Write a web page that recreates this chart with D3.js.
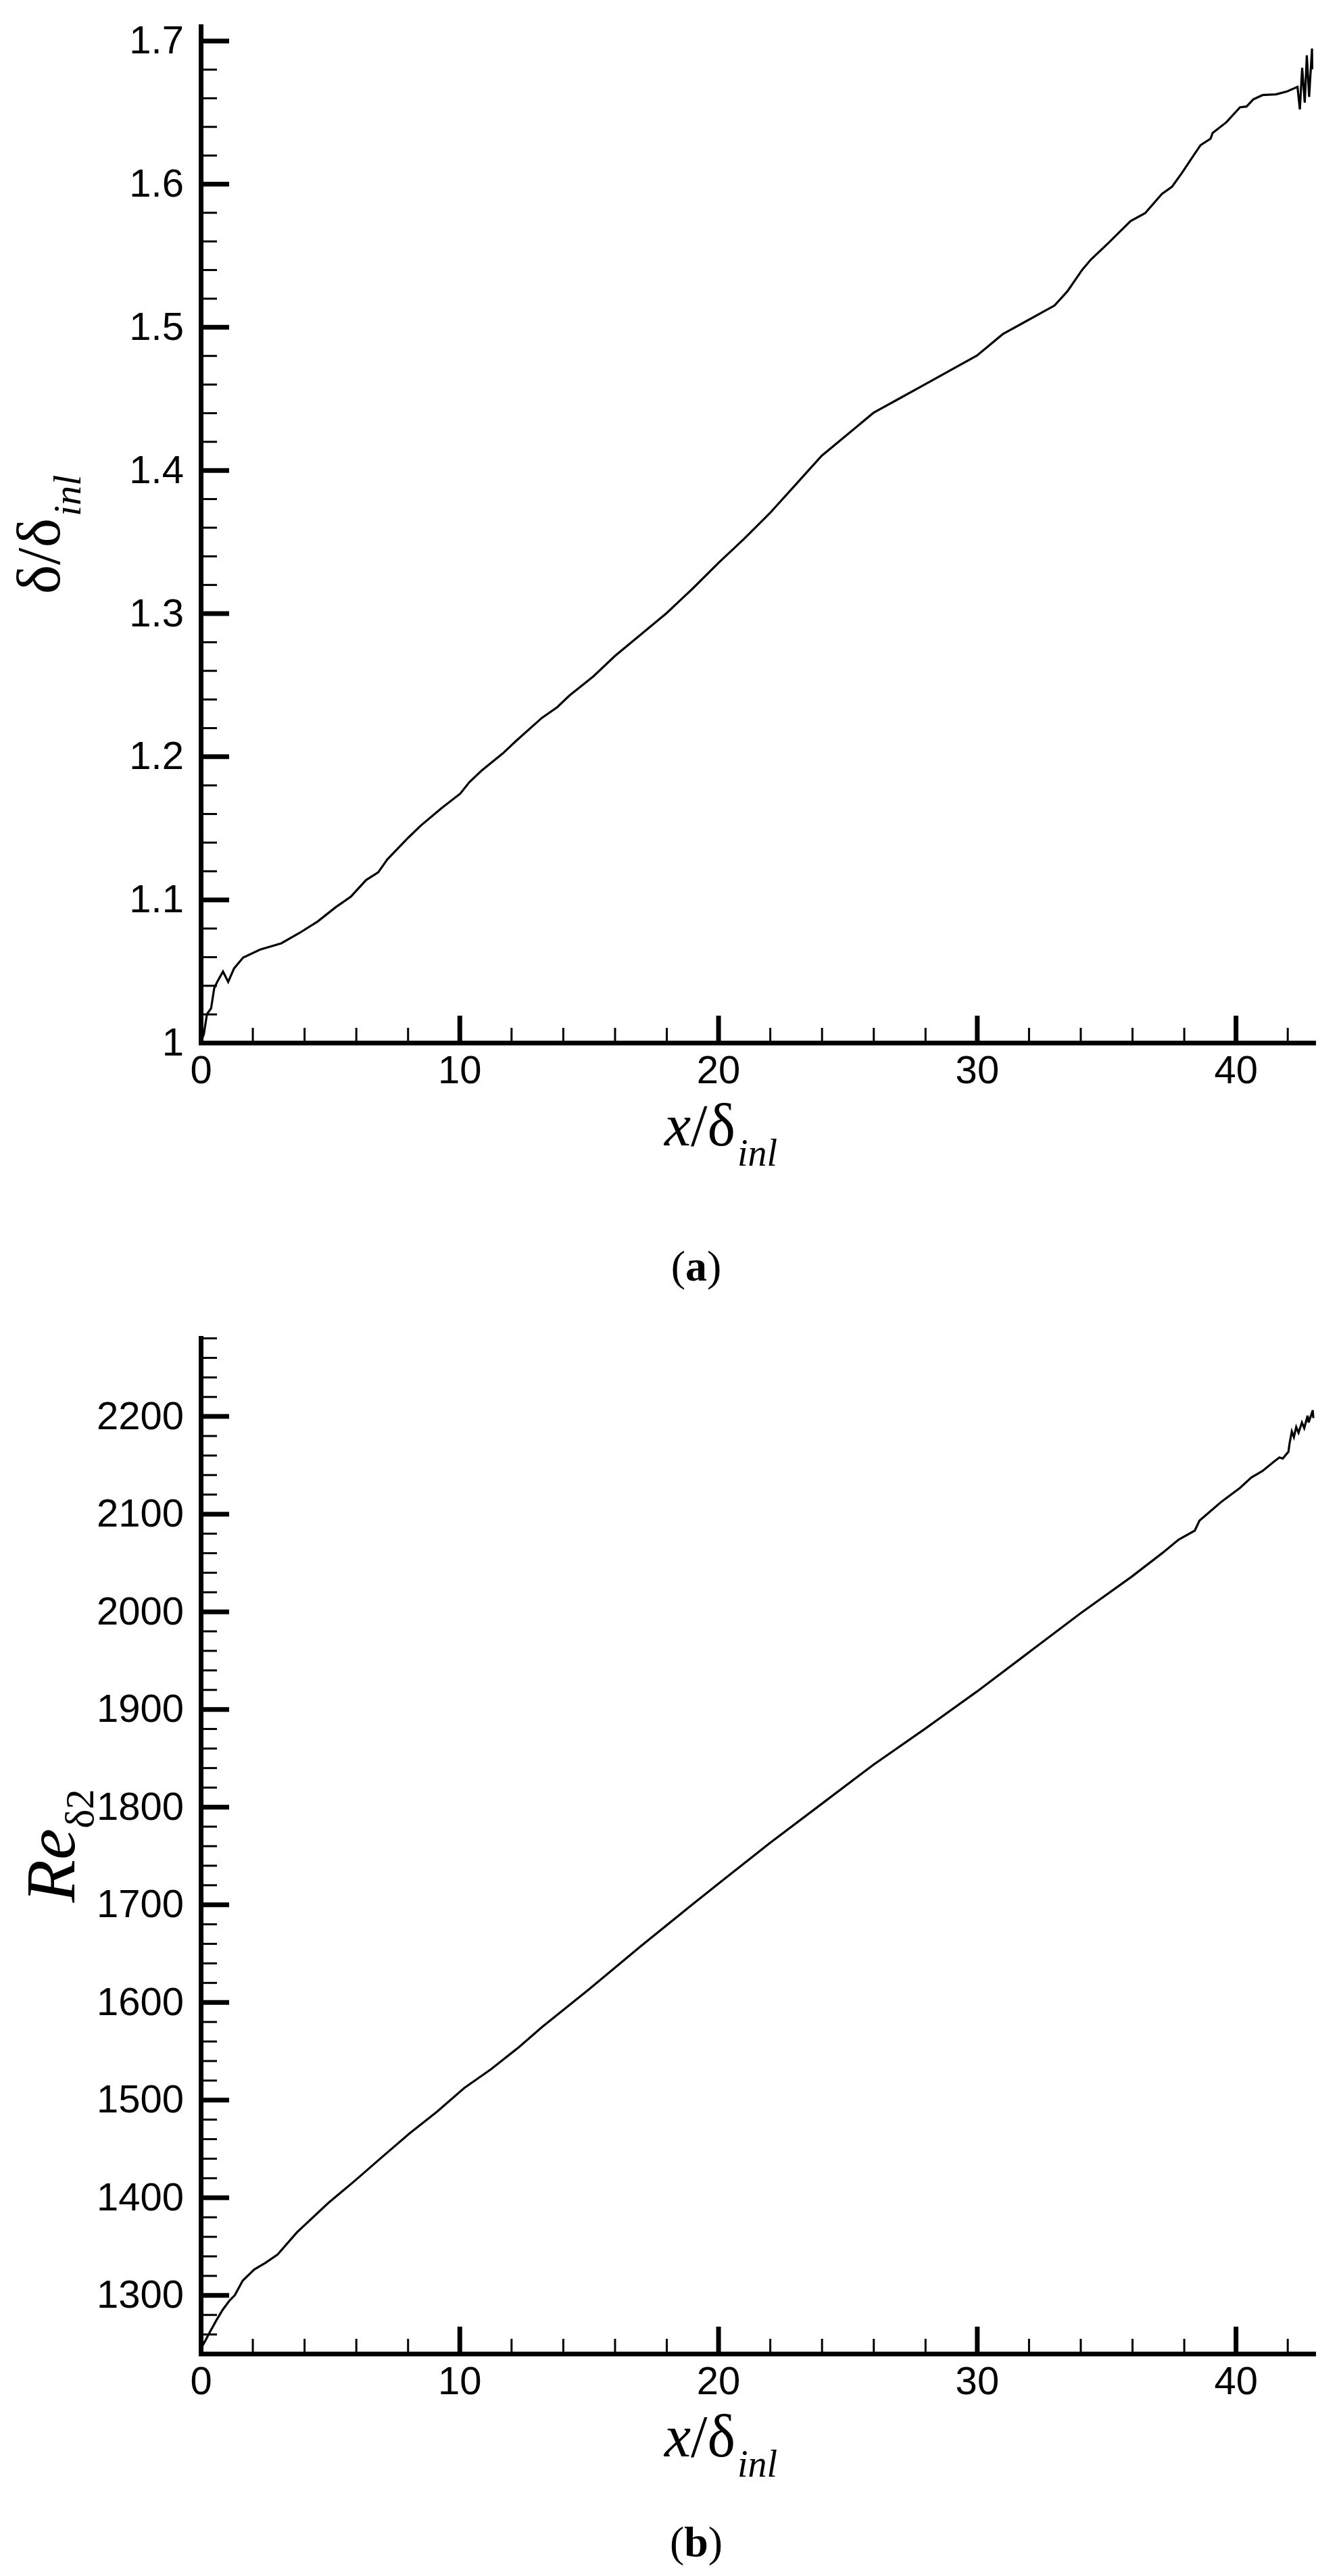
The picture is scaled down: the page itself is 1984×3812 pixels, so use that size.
<!DOCTYPE html>
<html>
<head>
<meta charset="utf-8">
<script src="https://cdn.jsdelivr.net/npm/d3@7"></script>
<style>
  html, body { margin: 0; padding: 0; background: #fff; }
  svg { display: block; }
</style>
</head>
<body>
<svg id="fig" width="1984" height="3812"></svg>
<script>
// ---------- data ----------
// Panel (a): boundary-layer thickness delta/delta_inl vs x/delta_inl
const xA = [0, 0.12, 0.24, 0.4, 0.52, 0.65, 0.86, 1.06, 1.29, 1.64, 2.29, 3.11, 3.81, 4.52, 5.22, 5.8, 6.39, 6.86, 7.21, 8.03, 8.5, 9.32, 10.03, 10.38, 10.85, 11.67, 12.2, 13.19, 13.78, 14.25, 15.18, 16, 17, 18, 19, 20, 21, 22, 23, 23.5, 24, 25, 26, 27, 28, 29, 30, 31, 32, 33, 33.5, 34.07, 34.4, 35.1, 35.94, 36.5, 37.15, 37.54, 37.9, 38.38, 38.64, 39.03, 39.11, 39.64, 40.17, 40.42, 40.68, 41.04, 41.56, 41.99, 42.39, 42.48, 42.57, 42.67, 42.75, 42.84, 42.95, 42.96];
const yA = [1.0, 1.006, 1.02, 1.024, 1.038, 1.043, 1.0497, 1.0425, 1.052, 1.0595, 1.065, 1.0694, 1.0766, 1.0847, 1.0947, 1.102, 1.1136, 1.119, 1.128, 1.1434, 1.1516, 1.164, 1.174, 1.182, 1.19, 1.202, 1.211, 1.227, 1.2344, 1.2425, 1.256, 1.27, 1.285, 1.30, 1.317, 1.335, 1.352, 1.37, 1.39, 1.40, 1.41, 1.425, 1.44, 1.45, 1.46, 1.47, 1.48, 1.495, 1.505, 1.515, 1.525, 1.54, 1.547, 1.559, 1.574, 1.5795, 1.593, 1.598, 1.607, 1.62, 1.627, 1.6315, 1.6355, 1.643, 1.6535, 1.654, 1.659, 1.662, 1.6625, 1.6646, 1.6677, 1.652, 1.681, 1.6567, 1.6898, 1.6607, 1.6945, 1.68];

// Panel (b): Re_delta2 vs x/delta_inl
const xB = [0, 0.15, 0.35, 0.6, 0.85, 1.1, 1.32, 1.62, 2.07, 2.5, 2.97, 3.72, 4.93, 5.97, 7.02, 8.08, 9.13, 10.18, 11.23, 12.28, 13.18, 15, 17, 19, 20, 22, 24, 26, 28, 30, 32, 34, 36, 37.16, 37.8, 38.42, 38.6, 38.95, 39.47, 40.17, 40.6, 41.04, 41.47, 41.69, 41.82, 42.04, 42.08, 42.17, 42.25, 42.34, 42.43, 42.56, 42.65, 42.78, 42.82, 42.98, 43.0];
const yB = [1245, 1252, 1262, 1274, 1285, 1294, 1300, 1314.7, 1326.3, 1333, 1341.5, 1364.3, 1394.3, 1417.4, 1441.6, 1465.8, 1487.7, 1511.9, 1531.5, 1553.5, 1574.2, 1613, 1657, 1700, 1721, 1763, 1803, 1843, 1880, 1918, 1958, 1998, 2036, 2059.7, 2073.6, 2082.8, 2093, 2101, 2112.8, 2126.6, 2137, 2143.9, 2153.2, 2157.7, 2156.6, 2163.5, 2171.6, 2184.3, 2178.5, 2188.8, 2183, 2193.5, 2187.7, 2200.4, 2193.5, 2206, 2198];

// axis domains and ticks
const xDomain = [0, 43];
const xMajorTicks = [0, 10, 20, 30, 40];
const xMinorTicks = [2, 4, 6, 8, 12, 14, 16, 18, 22, 24, 26, 28, 32, 34, 36, 38, 42];

const yDomainA = [1, 1.71];
const yMajorTicksA = [1, 1.1, 1.2, 1.3, 1.4, 1.5, 1.6, 1.7];
const yMinorTicksA = [1.02, 1.04, 1.06, 1.08, 1.12, 1.14, 1.16, 1.18, 1.22, 1.24, 1.26, 1.28, 1.32, 1.34, 1.36, 1.38, 1.42, 1.44, 1.46, 1.48, 1.52, 1.54, 1.56, 1.58, 1.62, 1.64, 1.66, 1.68];
const yTickLabelsA = ["1", "1.1", "1.2", "1.3", "1.4", "1.5", "1.6", "1.7"];

const yDomainB = [1240, 2280];
const yMajorTicksB = [1300, 1400, 1500, 1600, 1700, 1800, 1900, 2000, 2100, 2200];
const yMinorTicksB = [1260, 1280, 1320, 1340, 1360, 1380, 1420, 1440, 1460, 1480, 1520, 1540, 1560, 1580, 1620, 1640, 1660, 1680, 1720, 1740, 1760, 1780, 1820, 1840, 1860, 1880, 1920, 1940, 1960, 1980, 2020, 2040, 2060, 2080, 2120, 2140, 2160, 2180, 2220, 2240, 2260, 2280];
const yTickLabelsB = ["1300", "1400", "1500", "1600", "1700", "1800", "1900", "2000", "2100", "2200"];

// ---------- drawing ----------
const svg = d3.select("#fig");
svg.append("rect").attr("width", 1984).attr("height", 3812).attr("fill", "#fff");

const SANS = "'Liberation Sans', Arial, sans-serif";
const SERIF = "'Liberation Serif', 'Times New Roman', serif";

function panel(opts) {
  const g = svg.append("g");
  const x = d3.scaleLinear().domain(xDomain).range([opts.left, opts.right]);
  const y = d3.scaleLinear().domain(opts.yDomain).range([opts.bottom, opts.top]);

  // minor ticks
  g.append("g").attr("transform", `translate(0,${opts.bottom})`)
    .call(d3.axisBottom(x).tickValues(xMinorTicks).tickFormat("").tickSizeInner(-22).tickSizeOuter(0))
    .call(s => s.select(".domain").remove())
    .call(s => s.selectAll(".tick line").attr("stroke", "#000").attr("stroke-width", 3));
  g.append("g").attr("transform", `translate(${opts.left},0)`)
    .call(d3.axisLeft(y).tickValues(opts.yMinor).tickFormat("").tickSizeInner(-24).tickSizeOuter(0))
    .call(s => s.select(".domain").remove())
    .call(s => s.selectAll(".tick line").attr("stroke", "#000").attr("stroke-width", 3));

  // major ticks + labels
  const xAxis = g.append("g").attr("transform", `translate(0,${opts.bottom})`)
    .call(d3.axisBottom(x).tickValues(xMajorTicks).tickFormat(d3.format("d"))
      .tickSizeInner(-40).tickSizeOuter(0).tickPadding(19));
  xAxis.selectAll(".tick line").attr("stroke", "#000").attr("stroke-width", 7);
  xAxis.selectAll(".tick text").attr("font-family", SANS).attr("font-size", 58).attr("fill", "#000");
  xAxis.select(".domain").attr("stroke", "#000").attr("stroke-width", 7).attr("stroke-linecap", "square");

  const yAxis = g.append("g").attr("transform", `translate(${opts.left},0)`)
    .call(d3.axisLeft(y).tickValues(opts.yMajor).tickFormat((d, i) => opts.yLabels[i])
      .tickSizeInner(-42).tickSizeOuter(0).tickPadding(25));
  yAxis.selectAll(".tick line").attr("stroke", "#000").attr("stroke-width", 7);
  yAxis.selectAll(".tick text").attr("font-family", SANS).attr("font-size", 58).attr("fill", "#000");
  yAxis.select(".domain").attr("stroke", "#000").attr("stroke-width", 7).attr("stroke-linecap", "square");

  // data line
  const pts = opts.xs.map((v, i) => [v, opts.ys[i]]);
  g.append("path").datum(pts)
    .attr("fill", "none").attr("stroke", "#000").attr("stroke-width", 3.2)
    .attr("stroke-linejoin", "miter")
    .attr("d", d3.line().x(d => x(d[0])).y(d => y(d[1])));

  // x-axis title: x/δ_inl
  const xt = g.append("text").attr("x", opts.xTitleX).attr("y", opts.bottom + 152)
    .attr("font-family", SERIF).attr("font-size", 88).attr("fill", "#000");
  xt.append("tspan").attr("font-style", "italic").text("x");
  xt.append("tspan").text("/δ");
  xt.append("tspan").attr("font-style", "italic").attr("font-size", 56).attr("dx", 3).attr("dy", 30).text("inl");

  // y-axis title (rotated)
  const cy = (opts.top + opts.bottom) / 2;
  const yt = g.append("text").attr("transform", `translate(${opts.yTitleX},${cy}) rotate(-90)`)
    .attr("text-anchor", "middle").attr("font-family", SERIF).attr("fill", "#000");
  opts.yTitle(yt);

  // caption
  const cap = g.append("text").attr("x", 1030).attr("y", opts.captionY).attr("text-anchor", "middle")
    .attr("font-family", SERIF).attr("font-size", 64).attr("fill", "#000");
  cap.append("tspan").text("(");
  cap.append("tspan").attr("font-weight", "bold").text(opts.caption);
  cap.append("tspan").text(")");
}

panel({
  left: 297, right: 1943, top: 39, bottom: 1543,
  yDomain: yDomainA, yMajor: yMajorTicksA, yMinor: yMinorTicksA, yLabels: yTickLabelsA,
  xs: xA, ys: yA, xTitleX: 983, yTitleX: 88, captionY: 1895, caption: "a",
  yTitle: t => {
    t.attr("font-size", 92);
    t.append("tspan").text("δ/δ");
    t.append("tspan").attr("font-style", "italic").attr("font-size", 58).attr("dx", 3).attr("dy", 31).text("inl");
  }
});

panel({
  left: 297, right: 1943, top: 1980, bottom: 3483,
  yDomain: yDomainB, yMajor: yMajorTicksB, yMinor: yMinorTicksB, yLabels: yTickLabelsB,
  xs: xB, ys: yB, xTitleX: 983, yTitleX: 110, captionY: 3783, caption: "b",
  yTitle: t => {
    t.attr("font-size", 104);
    t.append("tspan").attr("font-style", "italic").text("Re");
    t.append("tspan").attr("font-size", 60).attr("dy", 28).text("δ2");
  }
});
</script>
</body>
</html>
